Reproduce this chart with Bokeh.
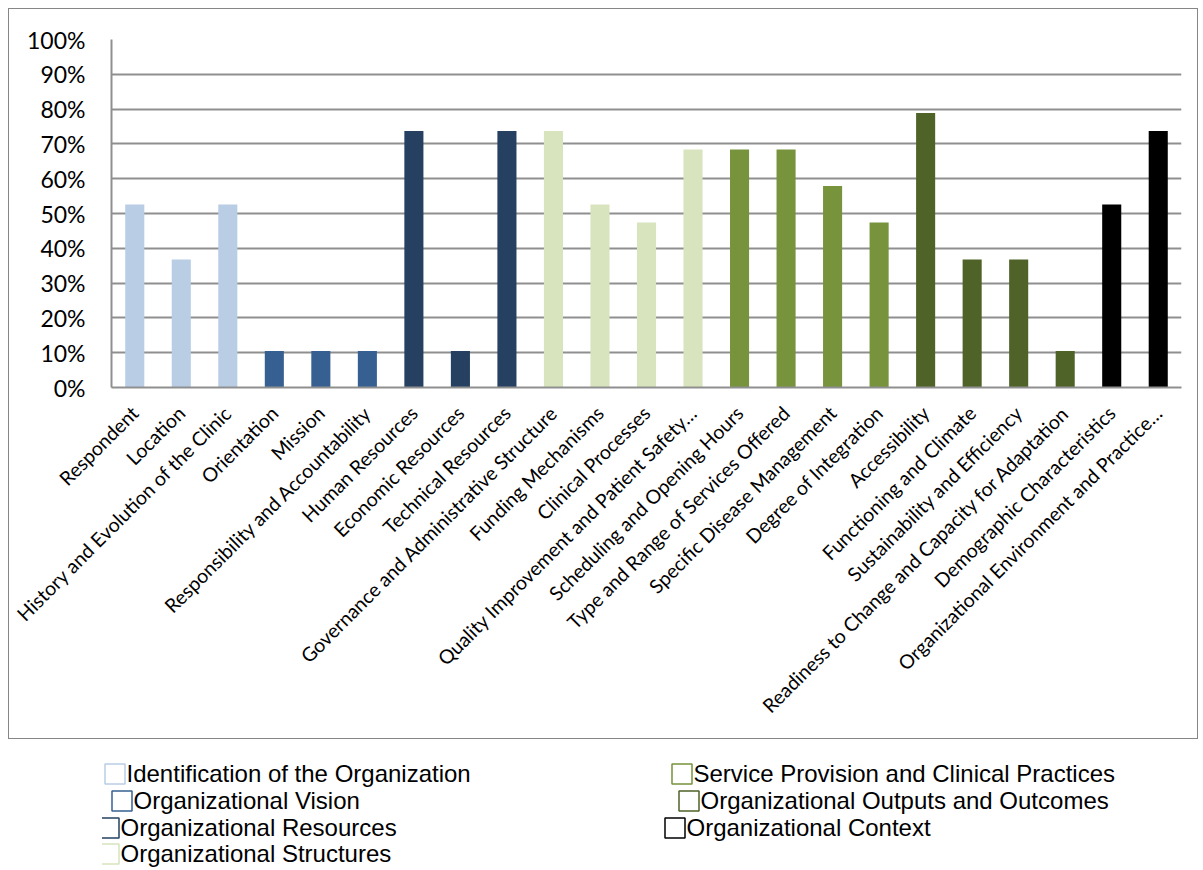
import math
from bokeh.plotting import figure
from bokeh.models import (ColumnDataSource, FactorRange, Range1d, FixedTicker,
                          NumeralTickFormatter, Legend, LegendItem)
from bokeh.layouts import column
from bokeh.embed import file_html
from bokeh.resources import INLINE

categories = [
    "Respondent", "Location", "History and Evolution of the Clinic",
    "Orientation", "Mission", "Responsibility and Accountability",
    "Human Resources", "Economic Resources", "Technical Resources",
    "Governance and Administrative Structure", "Funding Mechanisms",
    "Clinical Processes", "Quality Improvement and Patient Safety\u2026",
    "Scheduling and Opening Hours", "Type and Range of Services Offered",
    "Specific Disease Management", "Degree of Integration",
    "Accessibility", "Functioning and Climate", "Sustainability and Efficiency",
    "Readiness to Change and Capacity for Adaptation",
    "Demographic Characteristics", "Organizational Environment and Practice\u2026",
]
values_pct = [52.6, 36.8, 52.6, 10.5, 10.5, 10.5, 73.7, 10.5, 73.7, 73.7, 52.6,
              47.4, 68.4, 68.4, 68.4, 57.9, 47.4, 78.9, 36.8, 36.8, 10.5, 52.6, 73.7]
groups = [
    "Identification of the Organization", "Identification of the Organization",
    "Identification of the Organization",
    "Organizational Vision", "Organizational Vision", "Organizational Vision",
    "Organizational Resources", "Organizational Resources", "Organizational Resources",
    "Organizational Structures", "Organizational Structures",
    "Organizational Structures", "Organizational Structures",
    "Service Provision and Clinical Practices", "Service Provision and Clinical Practices",
    "Service Provision and Clinical Practices", "Service Provision and Clinical Practices",
    "Organizational Outputs and Outcomes", "Organizational Outputs and Outcomes",
    "Organizational Outputs and Outcomes", "Organizational Outputs and Outcomes",
    "Organizational Context", "Organizational Context",
]
group_names = [
    "Identification of the Organization", "Organizational Vision",
    "Organizational Resources", "Organizational Structures",
    "Service Provision and Clinical Practices", "Organizational Outputs and Outcomes",
    "Organizational Context",
]
group_colors = ["#B9CDE5", "#376092", "#254061", "#D7E4BD", "#77933C", "#4F6228", "#000000"]
y_ticks = [i / 10 for i in range(11)]

color_map = dict(zip(group_names, group_colors))
src = ColumnDataSource(dict(cat=categories, val=[v / 100 for v in values_pct],
                            color=[color_map[g] for g in groups]))

FIG_W = 1190
FIG_H = 731
p = figure(x_range=FactorRange(*categories), y_range=Range1d(0, 1),
           width=FIG_W, height=FIG_H, output_backend="svg", toolbar_location=None,
           min_border_left=102, min_border_right=18, min_border_top=30,
           min_border_bottom=353)
p.styles = {"border": "1px solid #868686", "margin-left": "8px", "margin-top": "8px"}
p.vbar(x="cat", top="val", width=0.41, source=src, fill_color="color", line_color=None)

GRAY = "#8f8f8f"
p.outline_line_color = None
p.xgrid.grid_line_color = None
p.ygrid.grid_line_color = GRAY
p.ygrid.grid_line_width = 2
p.ygrid.ticker = FixedTicker(ticks=y_ticks)

p.xaxis.major_label_orientation = math.pi / 4
p.xaxis.major_tick_line_color = None
p.xaxis.minor_tick_line_color = None
p.xaxis.axis_line_color = GRAY
p.xaxis.axis_line_width = 2
p.xaxis.major_label_text_font = "Lato"
p.xaxis.major_label_text_font_size = "19.5px"
p.xaxis.major_label_text_color = "black"
p.xaxis.major_label_standoff = 16

p.yaxis.ticker = FixedTicker(ticks=y_ticks)
p.yaxis.formatter = NumeralTickFormatter(format="0%")
p.yaxis.major_tick_line_color = None
p.yaxis.minor_tick_line_color = None
p.yaxis.axis_line_color = GRAY
p.yaxis.axis_line_width = 2
p.yaxis.major_label_text_font = "Lato"
p.yaxis.major_label_text_font_size = "23px"
p.yaxis.major_label_text_color = "black"
p.yaxis.major_label_standoff = 20

# Legend figure (its frame is aligned with the chart frame by the column layout)
L_H = 128
F_LEFT = 103      # page x of legend-figure frame
F_BOTTOM = 867    # page y of legend-figure frame bottom
p2 = figure(width=1200, height=L_H, output_backend="svg", toolbar_location=None,
            x_axis_location=None, y_axis_location=None, min_border=0,
            x_range=Range1d(0, 1), y_range=Range1d(0, 1))
p2.grid.visible = False
p2.outline_line_color = None

# (box left page x, box centre page y)
legend_pos = [(105, 775), (112, 802), (99, 829), (99, 855),
              (672, 775), (679, 802), (665, 829)]
GW = 25
for name, col, (bx, cy) in zip(group_names, group_colors, legend_pos):
    r = p2.quad(left=[5], right=[6], top=[6], bottom=[5], fill_color=None,
                line_color=col, line_width=1.5)
    vx = bx - GW * 0.1 - F_LEFT
    vy = F_BOTTOM - (cy + GW / 2)
    leg = Legend(items=[LegendItem(label=name, renderers=[r])], location=(vx, vy),
                 glyph_width=GW, glyph_height=GW, label_standoff=0, padding=0,
                 margin=0, border_line_color=None, background_fill_alpha=0,
                 label_text_font="Liberation Sans", label_text_font_size="24px",
                 label_text_color="black", label_height=GW)
    p2.add_layout(leg)

layout = column(p, p2, spacing=0)
open("out.html", "w").write(file_html(layout, INLINE))
